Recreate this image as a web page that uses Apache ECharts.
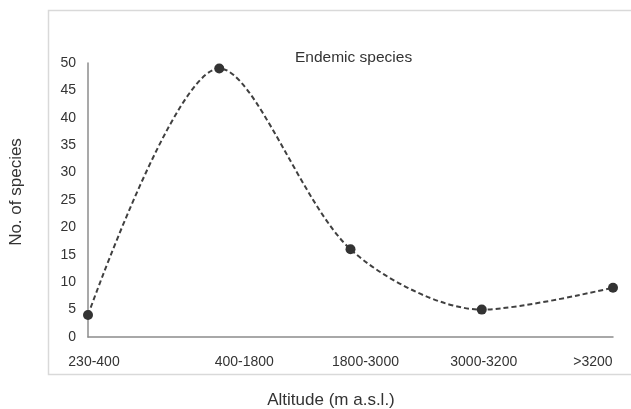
<!DOCTYPE html>
<html>
<head>
<meta charset="utf-8">
<script src="https://cdn.jsdelivr.net/npm/echarts@6/dist/echarts.min.js"></script>
<style>
html,body{margin:0;padding:0;background:#fff;}
#chart{width:631px;height:409px;}
</style>
</head>
<body>
<div id="chart"></div>
<script>
var categories = ['230-400', '400-1800', '1800-3000', '3000-3200', '>3200'];
var endemicSpecies = [4, 49, 16, 5, 9];
var yTicks = [0, 5, 10, 15, 20, 25, 30, 35, 40, 45, 50];
var chartTitle = 'Endemic species';
var xTitle = 'Altitude (m a.s.l.)';
var yTitle = 'No. of species';

var chart = echarts.init(document.getElementById('chart'));
var txt = '#333333';
var font = 'Liberation Sans, Arial, sans-serif';
var labelKeys = ['c0', 'c1', 'c2', 'c3', 'c4'];

chart.setOption({
  animation: false,
  backgroundColor: '#fff',
  grid: { left: 88, right: 18, top: 63, bottom: 72, containLabel: false },
  graphic: [
    { type: 'rect', silent: true, z: -1,
      shape: { x: 48.5, y: 10.5, width: 640, height: 364 },
      style: { fill: 'none', stroke: '#d9d9d9', lineWidth: 1.5 } },
    { type: 'text', left: 295, top: 50,
      style: { text: chartTitle, fill: txt, font: '15.5px ' + font } },
    { type: 'text', x: 331, y: 400,
      style: { text: xTitle, fill: txt, font: '17px ' + font, textAlign: 'center', textVerticalAlign: 'middle' } },
    { type: 'text', x: 16, y: 192, rotation: Math.PI / 2,
      style: { text: yTitle, fill: txt, font: '17px ' + font, textAlign: 'center', textVerticalAlign: 'middle' } }
  ],
  xAxis: {
    type: 'category',
    data: categories,
    boundaryGap: false,
    axisLine: { lineStyle: { color: '#8c8c8c', width: 1.5 } },
    axisTick: { show: false },
    splitLine: { show: false },
    axisLabel: {
      interval: 0,
      margin: 18,
      color: txt,
      fontSize: 14,
      fontFamily: font,
      formatter: function (v, i) { return '{' + labelKeys[i] + '|' + v + '}'; },
      rich: {
        c0: { padding: [0, 0, 0, 12], color: txt, fontSize: 14, fontFamily: font },
        c1: { padding: [0, 0, 0, 50], color: txt, fontSize: 14, fontFamily: font },
        c2: { padding: [0, 0, 0, 30], color: txt, fontSize: 14, fontFamily: font },
        c3: { padding: [0, 0, 0, 4], color: txt, fontSize: 14, fontFamily: font },
        c4: { padding: [0, 40, 0, 0], color: txt, fontSize: 14, fontFamily: font }
      }
    }
  },
  yAxis: {
    type: 'value',
    min: yTicks[0],
    max: yTicks[yTicks.length - 1],
    interval: yTicks[1] - yTicks[0],
    axisLine: { show: true, lineStyle: { color: '#8c8c8c', width: 1.5 } },
    axisTick: { show: false },
    splitLine: { show: false },
    axisLabel: { margin: 12, color: txt, fontSize: 14, fontFamily: font }
  },
  series: [{
    type: 'line',
    data: endemicSpecies,
    smooth: 0.3,
    symbol: 'circle',
    symbolSize: 10,
    itemStyle: { color: '#333333' },
    lineStyle: { color: '#404040', width: 2, type: [5, 3] }
  }]
});
</script>
</body>
</html>
